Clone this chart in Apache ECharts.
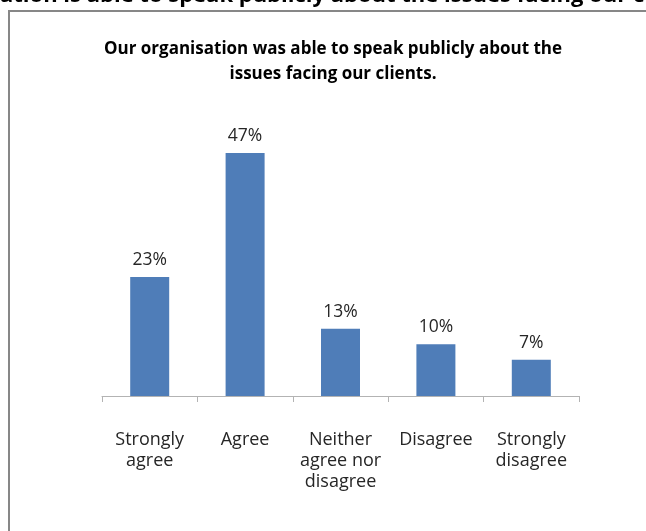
<!DOCTYPE html>
<html>
<head>
<meta charset="utf-8">
<script src="https://cdn.jsdelivr.net/npm/echarts@6/dist/echarts.min.js"></script>
<style>
  html, body { margin: 0; padding: 0; background: #ffffff; }
  #chart { width: 646px; height: 531px; }
</style>
</head>
<body>
<div id="chart"></div>
<script>
// Survey responses
const categories = ['Strongly\nagree', 'Agree', 'Neither\nagree nor\ndisagree', 'Disagree', 'Strongly\ndisagree'];
const percentages = [23, 47, 13, 10, 7];

const headingText = 'Our organisation is able to speak publicly about the issues facing our clients.';
const headingFont = 'bold 22px "Open Sans"';
const titleText = 'Our organisation was able to speak publicly about the\nissues facing our clients.';
const FONT = '"Open Sans"';

// Shift the page heading so its visible portion starts mid-word, as on the page
const ctx = document.createElement('canvas').getContext('2d');
ctx.font = headingFont;
const headingOffset = ctx.measureText('Our organis').width;

const chart = echarts.init(document.getElementById('chart'), null, { renderer: 'canvas' });

chart.setOption({
  animation: false,
  backgroundColor: '#ffffff',
  textStyle: { fontFamily: FONT },
  title: {
    text: titleText,
    left: 328,
    textAlign: 'center',
    top: 32,
    textStyle: {
      fontFamily: FONT,
      fontSize: 17,
      fontWeight: 'bold',
      color: '#000000',
      lineHeight: 25
    }
  },
  graphic: [
    {
      type: 'rect',
      shape: { x: 9, y: 11, width: 700, height: 600 },
      style: { fill: 'none', stroke: '#878787', lineWidth: 2 },
      silent: true
    },
    {
      type: 'text',
      x: -headingOffset,
      y: 7,
      style: {
        text: headingText,
        font: headingFont,
        fill: '#000000',
        textAlign: 'left',
        textVerticalAlign: 'bottom'
      },
      silent: true
    }
  ],
  grid: { left: 102, right: 67, top: 137.5, bottom: 135 },
  xAxis: {
    type: 'category',
    data: categories,
    boundaryGap: true,
    axisLine: { lineStyle: { color: '#b3b3b3', width: 1 } },
    axisTick: { show: true, length: 6, lineStyle: { color: '#b3b3b3' } },
    axisLabel: {
      interval: 0,
      margin: 33,
      fontSize: 18,
      lineHeight: 21,
      color: '#262626',
      fontFamily: FONT
    }
  },
  yAxis: {
    type: 'value',
    min: 0,
    max: 50,
    show: false
  },
  series: [{
    type: 'bar',
    data: percentages,
    barWidth: 39,
    itemStyle: { color: '#4f7db8' },
    label: {
      show: true,
      position: 'top',
      distance: 8,
      fontSize: 17.5,
      color: '#262626',
      fontFamily: FONT,
      formatter: p => p.value + '%'
    }
  }]
});
</script>
</body>
</html>
